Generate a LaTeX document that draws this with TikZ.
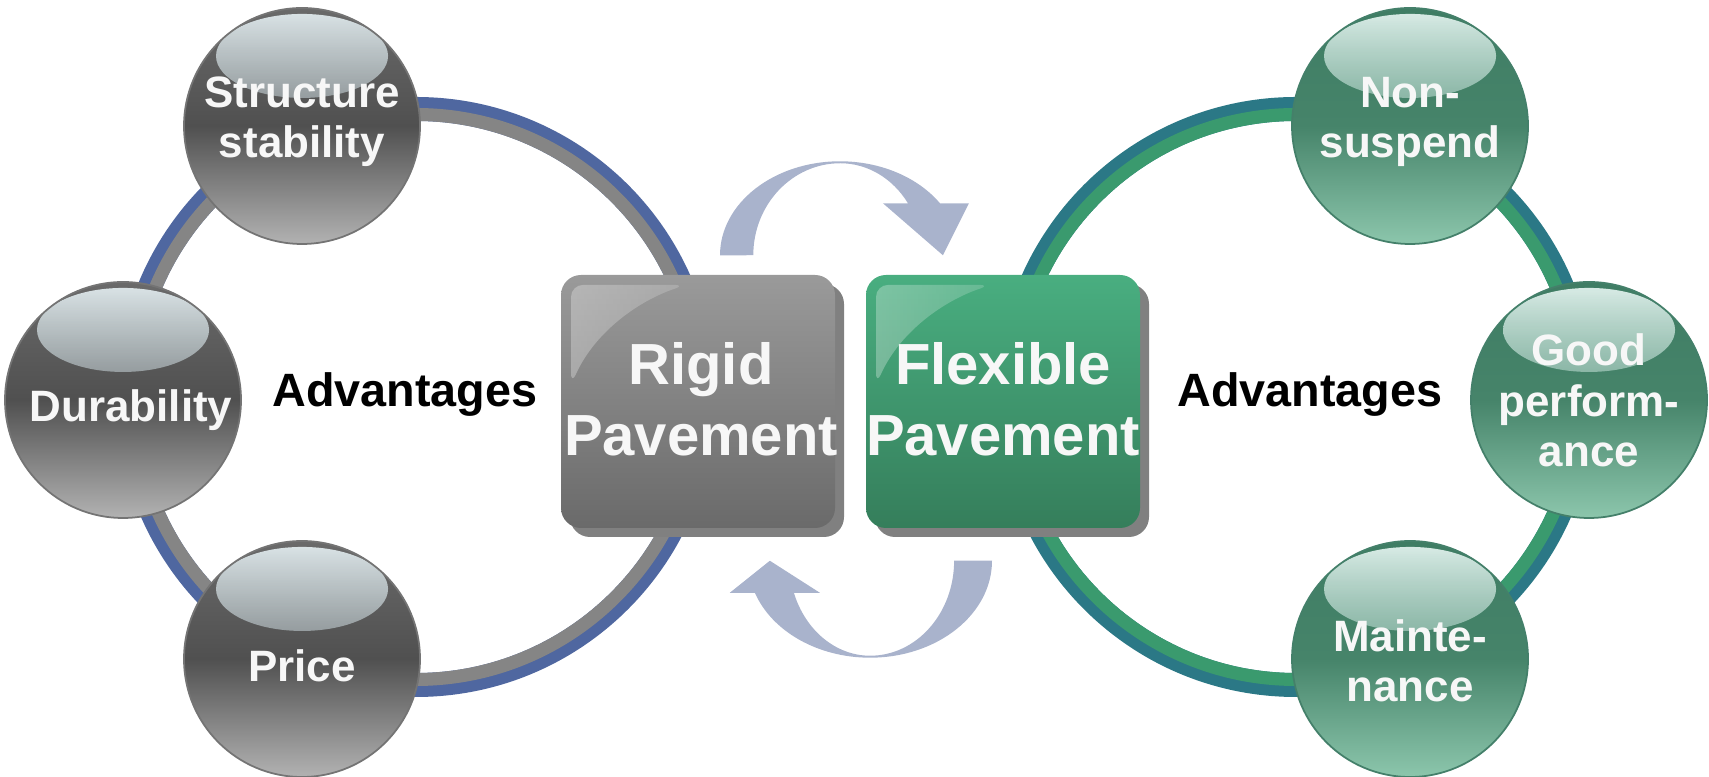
\documentclass[tikz,border=0pt]{standalone}
\usepackage{fontspec}
\setmainfont{Liberation Sans}
\usepackage{xcolor}
\usepackage{tikz}
\usetikzlibrary{shadows}
\usetikzlibrary{fadings}

\definecolor{ringblue}{HTML}{4F67A0}
\definecolor{ringgray}{HTML}{858585}
\definecolor{ringteal}{HTML}{2B7886}
\definecolor{ringgreen}{HTML}{3A9A6E}
\definecolor{arrowblue}{HTML}{A9B3CC}
\definecolor{rigidtop}{HTML}{9A9A9A}
\definecolor{rigidbot}{HTML}{6A6A6A}
\definecolor{flextop}{HTML}{49AE80}
\definecolor{flexbot}{HTML}{357E5B}
\definecolor{boxshadow}{HTML}{808080}
\definecolor{grayedge}{HTML}{747474}
\definecolor{graytop}{HTML}{6A6A6A}
\definecolor{graymid}{HTML}{505050}
\definecolor{graybot}{HTML}{B2B2B2}
\definecolor{grayshine}{HTML}{E4EEF1}
\definecolor{grayshade}{HTML}{8C9CA2}
\definecolor{greenedge}{HTML}{44806A}
\definecolor{greentop}{HTML}{3F7D64}
\definecolor{greenmid}{HTML}{46846A}
\definecolor{greenbot}{HTML}{8CC6AC}
\definecolor{greenshine}{HTML}{E6F5F1}
\definecolor{greenshade}{HTML}{7DB5A2}
\definecolor{lighttext}{HTML}{F7F7F7}

\begin{document}
\begin{tikzpicture}[
    sphere/.style={circle, minimum size=2.36cm, inner sep=0pt, draw=#1edge, line width=0.5pt,
        top color=#1top, bottom color=#1bot, middle color=#1mid,
        path picture={\shade[top color=#1shine, bottom color=#1shade, path fading=south, fill opacity=0.95]
            ([yshift=-0.48cm]path picture bounding box.north) ellipse [x radius=0.86cm, y radius=0.42cm];}},
    spheretext/.style={text=lighttext, align=center, anchor=base, inner sep=0pt,
        font=\fontsize{12.5}{14.5}\selectfont\bfseries},
    pavebox/.style={rectangle, rounded corners=0.2cm, minimum width=2.74cm, minimum height=2.53cm,
        inner sep=0pt, top color=#1top, bottom color=#1bot,
        drop shadow={shadow xshift=0.09cm, shadow yshift=-0.09cm, fill=boxshadow, opacity=1},
        path picture={\fill[white, fill opacity=0.3, path fading=east, rounded corners=0.12cm]
            ([xshift=0.1cm, yshift=-0.1cm]path picture bounding box.north west) -- ++(1.15,0)
            .. controls +(-0.45,-0.15) and +(0.25,0.55) .. ++(-1.15,-1.0) -- cycle;}},
    boxtext/.style={text=lighttext, align=center, anchor=base, inner sep=0pt,
        font=\fontsize{16.5}{20.4}\selectfont\bfseries},
    advtext/.style={anchor=base, inner sep=0pt, font=\fontsize{13.3}{16}\selectfont\bfseries}
  ]
\useasboundingbox (0,0) rectangle (17.09,7.77);

% the two rings
\draw[ringblue, line width=0.24cm] (4.16,3.80) circle (2.88);
\draw[ringgray, line width=0.13cm] (4.16,3.80) circle (2.825);
\draw[ringteal, line width=0.24cm] (12.96,3.80) circle (2.88);
\draw[ringgreen, line width=0.13cm] (12.96,3.80) circle (2.825);

% pavement boxes (text anchored on the last baseline)
\node[pavebox=rigid] (rigid) at (6.98,3.755) {};
\node[pavebox=flex] (flexible) at (10.03,3.755) {};
\node[boxtext] (rigidtext) at ([xshift=0.03cm, yshift=-0.545cm]rigid.center) {Rigid\\Pavement};
\node[boxtext] (flextext) at ([yshift=-0.545cm]flexible.center) {Flexible\\Pavement};

% curved arrows between the boxes
\fill[arrowblue] ([shift={(0.22,0.19)}]rigid.north)
    arc[start angle=180, end angle=33.6, x radius=1.20, y radius=0.94]
    -- ++(0.29,0) -- ++(-0.26,-0.52) -- ++(-0.60,0.52) -- ++(0.25,0)
    arc[start angle=34.4, end angle=90, x radius=0.82, y radius=0.92]
    arc[start angle=90, end angle=180, x radius=0.87, y radius=0.92] -- cycle;
\fill[arrowblue] ([shift={(-0.11,-0.32)}]flexible.south)
    arc[start angle=0, end angle=-160.7, x radius=1.22, y radius=0.97]
    -- ++(-0.25,0) -- ++(0.40,0.32) -- ++(0.50,-0.32) -- ++(-0.26,0)
    arc[start angle=-160.3, end angle=-90, x radius=0.81, y radius=0.95]
    arc[start angle=-90, end angle=0, x radius=0.84, y radius=0.95] -- cycle;

% advantages, left side
\node[sphere=gray] (stability) at (3.02,6.51) {};
\node[sphere=gray] (durability) at (1.23,3.77) {};
\node[sphere=gray] (price) at (3.02,1.18) {};
\node[spheretext] (stabtext) at ([yshift=-0.32cm]stability.center) {Structure\\stability};
\node[spheretext] (durtext) at ([xshift=0.08cm, yshift=-0.22cm]durability.center) {Durability};
\node[spheretext] (pricetext) at ([yshift=-0.23cm]price.center) {Price};

% advantages, right side
\node[sphere=green] (nonsusp) at (14.10,6.51) {};
\node[sphere=green] (perform) at (15.89,3.77) {};
\node[sphere=green] (mainten) at (14.10,1.18) {};
\node[spheretext] (nonsusptext) at ([yshift=-0.32cm]nonsusp.center) {Non-\\suspend};
\node[spheretext] (performtext) at ([yshift=-0.67cm]perform.center) {Good\\perform-\\ance};
\node[spheretext] (maintentext) at ([yshift=-0.43cm]mainten.center) {Mainte-\\nance};

\node[advtext] (advleft) at (4.05,3.70) {Advantages};
\node[advtext] (advright) at (13.10,3.70) {Advantages};
\end{tikzpicture}
\end{document}
